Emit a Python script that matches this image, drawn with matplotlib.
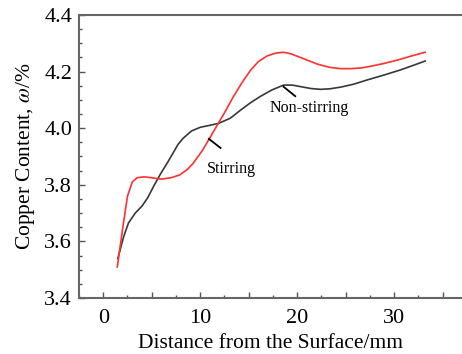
import numpy as np
import matplotlib
matplotlib.use('Agg')
import matplotlib.pyplot as plt
from matplotlib.ticker import MultipleLocator, FuncFormatter

# 搅拌 (red) 与 未搅拌 (black) 的铜含量曲线
x_stir = [1.45, 2.0, 2.5, 3.0, 3.5, 4.2, 5.0, 6.0, 7.0, 7.9, 8.7, 9.3, 10.2, 11.0,
          11.9, 12.6, 13.4, 14.3, 15.2, 16.0, 16.9, 17.8, 18.6, 19.4, 20.3, 21.2,
          22.1, 23.3, 24.5, 25.5, 26.7, 27.8, 28.9, 30.3, 31.8, 33.2]
y_stir = [3.51, 3.645, 3.76, 3.81, 3.825, 3.828, 3.825, 3.82, 3.825, 3.835, 3.855,
          3.877, 3.92, 3.966, 4.019, 4.06, 4.11, 4.16, 4.205, 4.235, 4.255, 4.265,
          4.268, 4.262, 4.25, 4.238, 4.226, 4.215, 4.21, 4.21, 4.213, 4.22, 4.228,
          4.24, 4.255, 4.268]

x_non = [1.5, 2.1, 2.6, 3.3, 4.0, 4.6, 5.2, 5.9, 6.6, 7.2, 7.7, 8.2, 9.1, 10.0, 11.0,
         11.9, 13.1, 14.1, 15.2, 16.2, 17.4, 18.6, 19.5, 20.3, 21.4, 22.4, 23.4,
         24.5, 25.8, 27.2, 28.9, 30.6, 32.0, 33.2]
y_non = [3.54, 3.616, 3.665, 3.70, 3.725, 3.755, 3.795, 3.838, 3.877, 3.912, 3.942,
         3.963, 3.99, 4.003, 4.01, 4.017, 4.035, 4.062, 4.09, 4.112, 4.135, 4.152,
         4.152, 4.147, 4.14, 4.137, 4.139, 4.145, 4.155, 4.17, 4.187, 4.205, 4.222, 4.237]

plt.rcParams['font.family'] = ['Liberation Serif', 'DejaVu Serif']
plt.rcParams['mathtext.fontset'] = 'stix'

fig = plt.figure(figsize=(4.62, 3.54), dpi=100)
ax = fig.add_axes([0.171, 0.158, 0.829, 0.800])

ax.plot(x_non, y_non, color='#383838', lw=1.2)
ax.plot(x_stir, y_stir, color='#ff3030', lw=1.2)

ax.set_xlim(-2.5, 37)
ax.set_ylim(3.4, 4.4)
ax.xaxis.set_major_locator(MultipleLocator(5))
ax.xaxis.set_minor_locator(MultipleLocator(2.5))
ax.xaxis.set_major_formatter(FuncFormatter(lambda v, p: '%d' % v if round(v) % 10 == 0 else ''))
ax.yaxis.set_major_locator(MultipleLocator(0.2))
ax.yaxis.set_minor_locator(MultipleLocator(0.05))
ax.yaxis.set_major_formatter(FuncFormatter(lambda v, p: '%.1f' % v))

for s in ax.spines.values():
    s.set_color('#666666')
    s.set_linewidth(1.5)
ax.spines['right'].set_visible(False)
ax.tick_params(which='both', direction='in', color='#555555', labelsize=16, width=1)
ax.tick_params(which='major', length=4, pad=5)
ax.tick_params(axis='x', which='major', pad=8)
ax.tick_params(which='minor', length=2.5)
ax.tick_params(axis='y', which='both', right=False)

ax.set_xlabel('Distance from the Surface/mm', fontsize=15.5, labelpad=4)
ax.set_ylabel(r'Copper Content, $\omega$/%', fontsize=15.5, labelpad=5)

# 标注
ax.plot([18.6, 19.8], [4.146, 4.113], color='black', lw=1.3)
ax.text(17.2, 4.07, 'Non-stirring', fontsize=11.5, va='center', ha='left')
ax.plot([10.9, 12.1], [3.962, 3.930], color='black', lw=1.3)
ax.text(10.7, 3.855, 'Stirring', fontsize=11.5, va='center', ha='left')

fig.savefig('out.png', dpi=100)
